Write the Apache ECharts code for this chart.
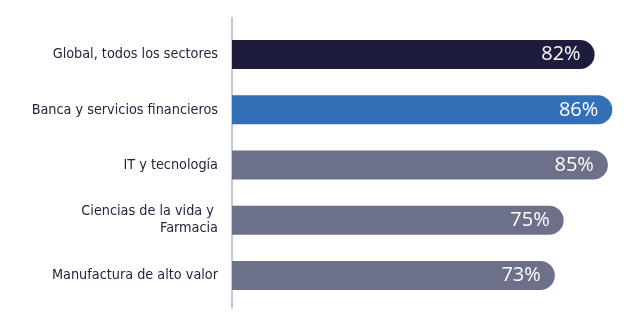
<!DOCTYPE html>
<html>
<head>
<meta charset="utf-8">
<script src="https://cdn.jsdelivr.net/npm/echarts@6/dist/echarts.min.js"></script>
<style>
  html, body { margin: 0; padding: 0; background: #ffffff; }
  #chart { width: 635px; height: 322px; }
</style>
</head>
<body>
<div id="chart"></div>
<script>
// Sector labels, top to bottom
const categories = [
  'Global, todos los sectores',
  'Banca y servicios financieros',
  'IT y tecnología',
  'Ciencias de la vida y \nFarmacia',
  'Manufactura de alto valor'
];
// Share per sector, percent
const values = [82, 86, 85, 75, 73];
// Bar fill per sector
const barColors = ['#1e1c3d', '#3370b8', '#6d7089', '#6d7089', '#6d7089'];

const chart = echarts.init(document.getElementById('chart'), null, { renderer: 'canvas' });

chart.setOption({
  animation: false,
  grid: [
    { left: 232, right: 5, top: 27, height: 276 },
    // frame holding only the longer vertical baseline
    { left: 232, right: 5, top: 18, height: 290 }
  ],
  xAxis: [
    { type: 'value', min: 0, max: 90, gridIndex: 0, show: false },
    { type: 'value', min: 0, max: 1, gridIndex: 1, show: false }
  ],
  yAxis: [
    {
      type: 'category',
      gridIndex: 0,
      data: categories,
      inverse: true,
      axisLine: { show: false },
      axisTick: { show: false },
      axisLabel: {
        color: '#23253f',
        fontFamily: 'DejaVu Sans Condensed',
        fontSize: 14.3,
        lineHeight: 17,
        margin: 14,
        align: 'right'
      }
    },
    {
      type: 'value',
      gridIndex: 1,
      min: 0,
      max: 1,
      axisLine: { show: true, lineStyle: { color: '#c6c8d4', width: 2 } },
      axisTick: { show: false },
      axisLabel: { show: false },
      splitLine: { show: false }
    }
  ],
  series: [{
    type: 'bar',
    xAxisIndex: 0,
    yAxisIndex: 0,
    barWidth: 29,
    data: values.map((v, i) => ({ value: v, itemStyle: { color: barColors[i] } })),
    itemStyle: { borderRadius: [0, 15, 15, 0] },
    label: {
      show: true,
      position: 'insideRight',
      distance: 14,
      color: '#ffffff',
      fontFamily: 'Open Sans',
      fontSize: 20,
      formatter: p => p.value + '%'
    }
  }]
});
</script>
</body>
</html>
